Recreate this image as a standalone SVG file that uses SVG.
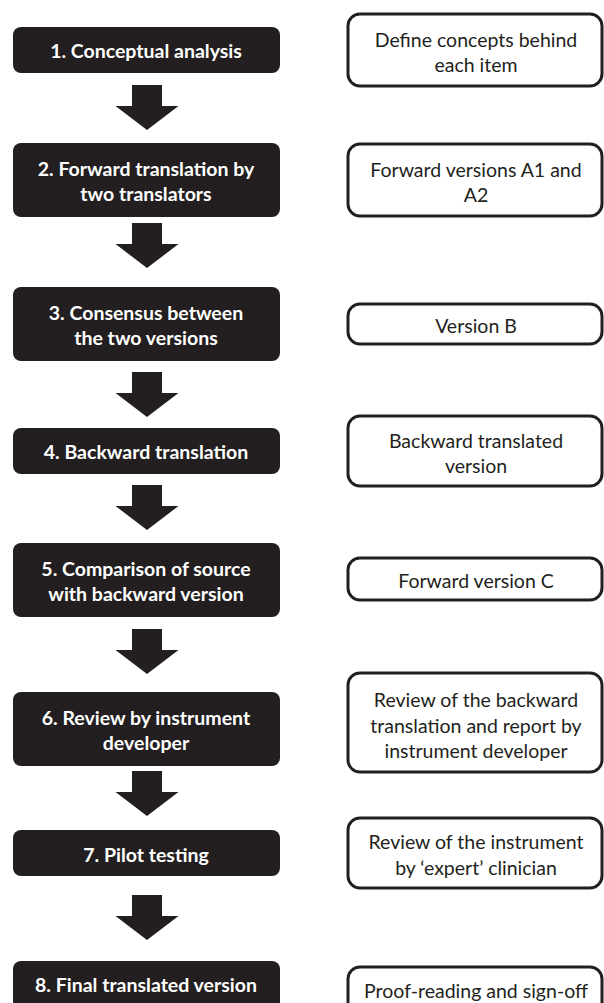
<svg xmlns="http://www.w3.org/2000/svg" width="604" height="1003" viewBox="0 0 604 1003">
  <defs>
    <style>
      .step { fill: #231f20; }
      .step-text { fill: #ffffff; font-family: Lato, "Open Sans", "Liberation Sans", sans-serif; font-weight: 700; font-size: 19.5px; text-anchor: middle; }
      .out { fill: #ffffff; stroke: #231f20; stroke-width: 3; }
      .out-text { fill: #231f20; font-family: Lato, "Open Sans", "Liberation Sans", sans-serif; font-size: 19.5px; text-anchor: middle; }
      .arrow { fill: #231f20; }
    </style>
    <!-- block arrow: 30px shaft, 63px head, 45px tall, origin at top centre -->
    <path id="down" d="M-15 0 H15 V21 H31.5 L0 45 L-31.5 21 H-15 Z"/>
  </defs>
  <rect width="604" height="1003" fill="#ffffff"/>

  <!-- process steps (left column) -->
  <g id="step1"><rect class="step" x="13" y="27" width="267" height="46" rx="8"/><text class="step-text" x="146" y="58">1. Conceptual analysis</text></g>
  <g id="step2"><rect class="step" x="13" y="143" width="267" height="74" rx="8"/><text class="step-text" x="146" y="176">2. Forward translation by</text><text class="step-text" x="146" y="201">two translators</text></g>
  <g id="step3"><rect class="step" x="13" y="287" width="267" height="74" rx="8"/><text class="step-text" x="146" y="320">3. Consensus between</text><text class="step-text" x="146" y="345">the two versions</text></g>
  <g id="step4"><rect class="step" x="13" y="428" width="267" height="46" rx="8"/><text class="step-text" x="146" y="459">4. Backward translation</text></g>
  <g id="step5"><rect class="step" x="13" y="543" width="267" height="74" rx="8"/><text class="step-text" x="146" y="576">5. Comparison of source</text><text class="step-text" x="146" y="601">with backward version</text></g>
  <g id="step6"><rect class="step" x="13" y="692" width="267" height="74" rx="8"/><text class="step-text" x="146" y="725">6. Review by instrument</text><text class="step-text" x="146" y="750">developer</text></g>
  <g id="step7"><rect class="step" x="13" y="830" width="267" height="46" rx="8"/><text class="step-text" x="146" y="862">7. Pilot testing</text></g>
  <g id="step8"><rect class="step" x="13" y="961" width="267" height="50" rx="8"/><text class="step-text" x="146" y="992">8. Final translated version</text></g>

  <!-- outputs (right column) -->
  <g id="out1"><rect class="out" x="348" y="14" width="254" height="72" rx="12"/><text class="out-text" x="476" y="47">Define concepts behind</text><text class="out-text" x="476" y="72">each item</text></g>
  <g id="out2"><rect class="out" x="348" y="144" width="254" height="72" rx="12"/><text class="out-text" x="476" y="177">Forward versions A1 and</text><text class="out-text" x="476" y="202">A2</text></g>
  <g id="out3"><rect class="out" x="348" y="304" width="254" height="40" rx="12"/><text class="out-text" x="476" y="333">Version B</text></g>
  <g id="out4"><rect class="out" x="348" y="416" width="254" height="70" rx="12"/><text class="out-text" x="476" y="448">Backward translated</text><text class="out-text" x="476" y="473">version</text></g>
  <g id="out5"><rect class="out" x="348" y="558" width="254" height="42" rx="12"/><text class="out-text" x="476" y="588">Forward version C</text></g>
  <g id="out6"><rect class="out" x="348" y="673" width="254" height="99" rx="12"/><text class="out-text" x="476" y="707">Review of the backward</text><text class="out-text" x="476" y="733">translation and report by</text><text class="out-text" x="476" y="758">instrument developer</text></g>
  <g id="out7"><rect class="out" x="348" y="818" width="254" height="70" rx="12"/><text class="out-text" x="476" y="849">Review of the instrument</text><text class="out-text" x="476" y="875">by ‘expert’ clinician</text></g>
  <g id="out8"><rect class="out" x="348" y="967" width="254" height="70" rx="12"/><text class="out-text" x="476" y="998">Proof-reading and sign-off</text></g>

  <!-- connectors between steps -->
  <g id="connectors">
    <use href="#down" class="arrow" x="147" y="85"/>
    <use href="#down" class="arrow" x="147" y="223"/>
    <use href="#down" class="arrow" x="147" y="372"/>
    <use href="#down" class="arrow" x="147" y="485"/>
    <use href="#down" class="arrow" x="147" y="629"/>
    <use href="#down" class="arrow" x="147" y="771"/>
    <use href="#down" class="arrow" x="147" y="895"/>
  </g>
</svg>
